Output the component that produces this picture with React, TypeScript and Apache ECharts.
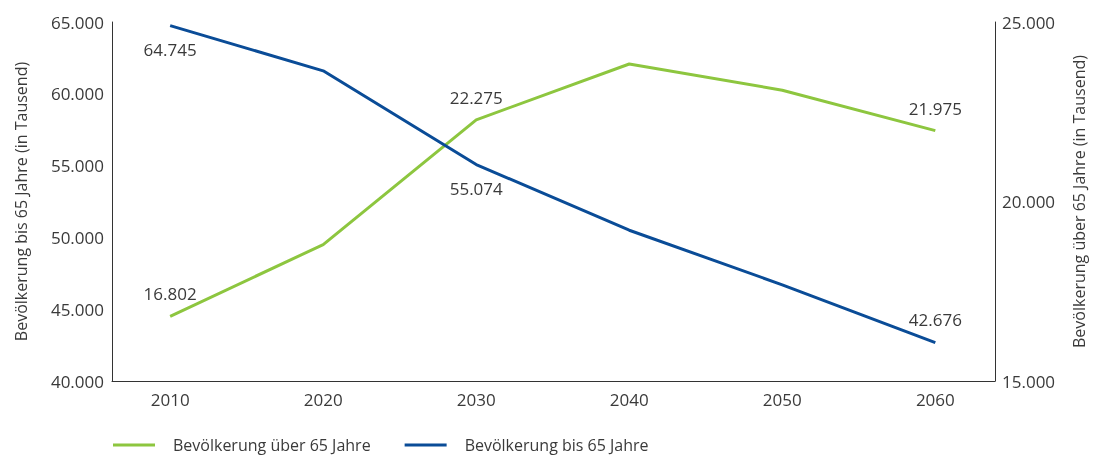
import React, { useEffect, useRef } from "react";
import * as echarts from "echarts";

const years = [2010, 2020, 2030, 2040, 2050, 2060];
const under65 = [64745, 61600, 55074, 50500, 46700, 42676];
const over65 = [16802, 18800, 22275, 23830, 23100, 21975];
const labelIdx = [0, 2, 5];
const underLabelPos = ["bottom", "bottom", "bottom", "bottom", "bottom", "top"];

const nameUnder = "Bevölkerung bis 65 Jahre";
const nameOver = "Bevölkerung über 65 Jahre";
const axisNameLeft = "Bevölkerung bis 65 Jahre (in Tausend)";
const axisNameRight = "Bevölkerung über 65 Jahre (in Tausend)";

const FONT = "'Open Sans', 'Noto Sans', sans-serif";
const TXT = "#3a3a3a";
const GREEN = "#8dc63f";
const BLUE = "#0a4c97";

const fmt = (v: number) =>
  v.toLocaleString("de-DE", { minimumFractionDigits: 0 }).replace(/,/g, ".");

export default function App() {
  const ref = useRef<HTMLDivElement>(null);
  useEffect(() => {
    if (!ref.current) return;
    const chart = echarts.init(ref.current, null, { renderer: "svg" });
    const mk = (vals: number[], pos: string[], dist: number) =>
      vals.map((v, i) => ({
        value: [years[i], v],
        label: labelIdx.includes(i)
          ? {
              show: true,
              position: pos[i],
              distance: dist,
              formatter: () => fmt(v),
              fontFamily: FONT,
              fontSize: 17,
              color: TXT,
            }
          : { show: false },
      }));
    chart.setOption({
      animation: false,
      grid: { left: 112, right: 103, top: 22, height: 359 },
      legend: {
        left: 108,
        top: 432,
        itemWidth: 42,
        itemHeight: 3,
        itemGap: 34,
        icon: "rect",
        textStyle: {
          fontFamily: FONT,
          fontSize: 16,
          color: TXT,
          padding: [0, 0, 0, 13],
        },
        data: [nameOver, nameUnder],
      },
      xAxis: {
        type: "value",
        min: 2006.2,
        max: 2063.9,
        splitLine: { show: false },
        axisLine: { show: true, lineStyle: { color: "#333", width: 1 } },
        axisTick: { show: false },
        axisLabel: {
          customValues: years,
          formatter: (v: number) => String(v),
          fontFamily: FONT,
          fontSize: 17,
          color: TXT,
          margin: 10,
        },
      },
      yAxis: [
        {
          type: "value",
          min: 40000,
          max: 65000,
          interval: 5000,
          position: "left",
          splitLine: { show: false },
          axisLine: { show: true, lineStyle: { color: "#333", width: 1 } },
          axisTick: { show: false },
          axisLabel: {
            formatter: (v: number) => fmt(v),
            fontFamily: FONT,
            fontSize: 17,
            color: TXT,
            margin: 8,
          },
          name: axisNameLeft,
          nameLocation: "middle",
          nameRotate: 90,
          nameGap: 83,
          nameTextStyle: { fontFamily: FONT, fontSize: 16, color: TXT },
        },
        {
          type: "value",
          min: 15000,
          max: 25000,
          interval: 5000,
          position: "right",
          splitLine: { show: false },
          axisLine: { show: true, lineStyle: { color: "#333", width: 1 } },
          axisTick: { show: false },
          axisLabel: {
            formatter: (v: number) => fmt(v),
            fontFamily: FONT,
            fontSize: 17,
            color: TXT,
            margin: 7,
          },
          name: axisNameRight,
          nameLocation: "middle",
          nameRotate: 90,
          nameGap: 76,
          nameTextStyle: { fontFamily: FONT, fontSize: 16, color: TXT },
        },
      ],
      series: [
        {
          name: nameOver,
          type: "line",
          yAxisIndex: 1,
          symbol: "circle",
          symbolSize: 0.1,
          showSymbol: true,
          lineStyle: { color: GREEN, width: 3 },
          itemStyle: { color: GREEN },
          data: mk(over65, ["top", "top", "top", "top", "top", "top"], 14),
        },
        {
          name: nameUnder,
          type: "line",
          yAxisIndex: 0,
          symbol: "circle",
          symbolSize: 0.1,
          showSymbol: true,
          lineStyle: { color: BLUE, width: 3 },
          itemStyle: { color: BLUE },
          data: mk(under65, underLabelPos, 15),
        },
      ],
    });
    return () => chart.dispose();
  }, []);
  return (
    <div
      ref={ref}
      style={{ position: "fixed", left: 0, top: 0, width: 1098, height: 455 }}
    />
  );
}
